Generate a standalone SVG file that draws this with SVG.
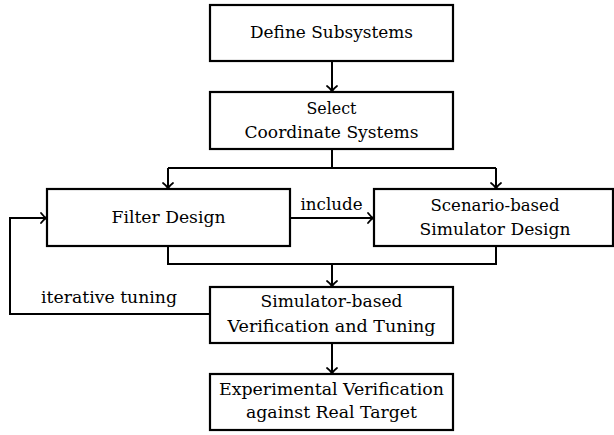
<svg xmlns="http://www.w3.org/2000/svg" width="614" height="435" viewBox="0 0 614 435">
<style>
.box{fill:#fff;stroke:#000;stroke-width:2.2}
.ln{fill:none;stroke:#000;stroke-width:2;stroke-linejoin:miter}
.t{font-family:'DejaVu Serif','Liberation Serif',serif;font-size:16px;fill:#000;text-anchor:middle}
</style>
<defs>
<marker id="ah" markerUnits="userSpaceOnUse" markerWidth="14" markerHeight="14" refX="0" refY="0" viewBox="-10 -7 12 14" orient="auto" overflow="visible">
<path d="M-5,-5 Q-2,-1 0.5,0 Q-2,1 -5,5" fill="none" stroke="#000" stroke-width="1.8" stroke-linecap="round"/>
</marker>
</defs>
<g id="connectors">
<path class="ln" d="M332,61 V91" marker-end="url(#ah)"/>
<path class="ln" d="M332,149 V168 M168,168 H496"/>
<path class="ln" d="M168,168 V188" marker-end="url(#ah)"/>
<path class="ln" d="M496,168 V188" marker-end="url(#ah)"/>
<path class="ln" d="M290,218 H373" marker-end="url(#ah)"/>
<text class="t" x="331.5" y="210" textLength="62" lengthAdjust="spacingAndGlyphs">include</text>
<path class="ln" d="M168,246 V264 H496 V246"/>
<path class="ln" d="M332,264 V286" marker-end="url(#ah)"/>
<path class="ln" d="M210,314 H10 V218 H46" marker-end="url(#ah)"/>
<text class="t" x="109" y="303" textLength="136" lengthAdjust="spacingAndGlyphs">iterative tuning</text>
<path class="ln" d="M332,343 V373" marker-end="url(#ah)"/>
</g>
<g id="n1">
<rect class="box" x="210" y="5" width="243" height="56"/>
<text class="t" x="331.5" y="38" textLength="163" lengthAdjust="spacingAndGlyphs">Define Subsystems</text>
</g>
<g id="n2">
<rect class="box" x="210" y="92" width="243" height="57"/>
<text class="t" x="331.5" y="114" textLength="50" lengthAdjust="spacingAndGlyphs">Select</text>
<text class="t" x="331.5" y="138" textLength="174" lengthAdjust="spacingAndGlyphs">Coordinate Systems</text>
</g>
<g id="n3">
<rect class="box" x="47" y="189" width="243" height="57"/>
<text class="t" x="168.5" y="223" textLength="114" lengthAdjust="spacingAndGlyphs">Filter Design</text>
</g>
<g id="n4">
<rect class="box" x="374" y="189" width="239" height="57"/>
<text class="t" x="495" y="211" textLength="129" lengthAdjust="spacingAndGlyphs">Scenario-based</text>
<text class="t" x="495" y="235" textLength="151" lengthAdjust="spacingAndGlyphs">Simulator Design</text>
</g>
<g id="n5">
<rect class="box" x="210" y="287" width="243" height="56"/>
<text class="t" x="331.5" y="307" textLength="142" lengthAdjust="spacingAndGlyphs">Simulator-based</text>
<text class="t" x="331.5" y="332" textLength="208" lengthAdjust="spacingAndGlyphs">Verification and Tuning</text>
</g>
<g id="n6">
<rect class="box" x="210" y="374" width="243" height="56"/>
<text class="t" x="331.5" y="395" textLength="225" lengthAdjust="spacingAndGlyphs">Experimental Verification</text>
<text class="t" x="331.5" y="418" textLength="171" lengthAdjust="spacingAndGlyphs">against Real Target</text>
</g>
</svg>
